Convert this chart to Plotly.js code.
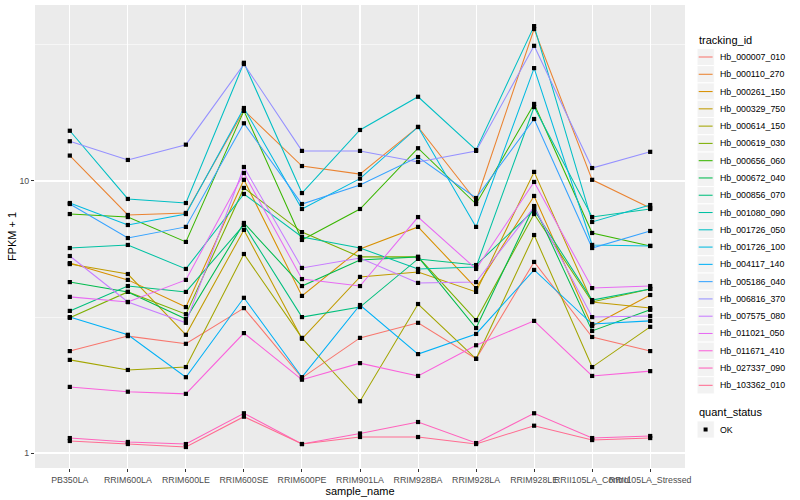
<!DOCTYPE html>
<html><head><meta charset="utf-8">
<script src="https://cdn.plot.ly/plotly-3.0.1.min.js"></script>
<style>html,body{margin:0;padding:0;background:#fff}#chart{width:800px;height:500px}</style>
</head><body><div id="chart"></div>
<script>
// categories
const samples = ['PB350LA','RRIM600LA','RRIM600LE','RRIM600SE','RRIM600PE','RRIM901LA','RRIM928BA','RRIM928LA','RRIM928LE','RRII105LA_Control','RRII105LA_Stressed'];
// FPKM + 1 per tracking_id
const hb000007_010 = [2.37, 2.69, 2.52, 3.41, 1.89, 2.65, 3.01, 2.22, 5.04, 2.67, 2.37];
const hb000110_270 = [12.4, 7.50, 7.63, 18.2, 11.35, 10.6, 15.8, 8.44, 36.2, 10.1, 7.96];
const hb000261_150 = [4.99, 4.33, 3.44, 10.1, 3.78, 5.62, 6.78, 4.04, 8.81, 2.93, 3.81];
const hb000329_750 = [4.95, 4.55, 2.72, 6.61, 2.63, 4.44, 4.63, 3.91, 10.8, 3.59, 3.41];
const hb000614_150 = [2.20, 2.02, 2.07, 5.39, 2.65, 1.55, 3.53, 2.22, 6.33, 2.07, 2.91];
const hb000619_030 = [3.14, 3.91, 3.24, 9.43, 6.49, 5.26, 5.26, 3.08, 7.56, 3.59, 4.01];
const hb000656_060 = [7.56, 7.37, 5.97, 18.1, 6.07, 7.89, 13.2, 8.23, 19.2, 6.44, 5.77];
const hb000672_040 = [4.25, 3.91, 3.11, 7.01, 4.11, 5.12, 5.26, 2.88, 8.09, 2.81, 3.36];
const hb000856_070 = [3.33, 4.11, 3.91, 6.89, 3.16, 3.44, 5.17, 4.91, 7.82, 3.65, 4.01];
const hb001080_090 = [5.67, 5.82, 4.75, 8.96, 6.23, 5.67, 4.75, 4.83, 18.7, 7.37, 7.89];
const hb001726_050 = [15.3, 8.59, 8.30, 27.2, 9.03, 15.4, 20.4, 13.0, 37.1, 7.07, 8.16];
const hb001726_100 = [8.30, 6.89, 7.56, 18.55, 7.89, 10.2, 15.8, 6.78, 26.0, 5.82, 5.77];
const hb004117_140 = [3.16, 2.72, 1.90, 3.72, 1.90, 3.50, 2.31, 2.74, 4.71, 2.98, 3.06];
const hb005186_040 = [8.23, 6.17, 6.78, 16.3, 8.23, 9.67, 12.25, 8.66, 16.9, 5.67, 6.55];
const hb006816_370 = [14.0, 11.95, 13.6, 26.9, 12.9, 12.9, 11.75, 12.9, 31.4, 11.16, 12.8];
const hb007575_080 = [5.30, 3.59, 3.01, 11.26, 4.79, 5.21, 4.22, 4.25, 8.02, 3.16, 3.19];
const hb011021_050 = [3.75, 3.59, 4.33, 10.7, 4.36, 4.11, 7.37, 4.75, 9.92, 4.04, 4.11];
const hb011671_410 = [1.75, 1.68, 1.65, 2.76, 1.86, 2.14, 1.92, 2.49, 3.06, 1.92, 2.00];
const hb027337_090 = [1.135, 1.098, 1.079, 1.40, 1.079, 1.18, 1.30, 1.088, 1.40, 1.135, 1.155];
const hb103362_010 = [1.107, 1.079, 1.052, 1.36, 1.079, 1.145, 1.145, 1.079, 1.26, 1.116, 1.135];

const trackingIds = ['Hb_000007_010','Hb_000110_270','Hb_000261_150','Hb_000329_750','Hb_000614_150','Hb_000619_030','Hb_000656_060','Hb_000672_040','Hb_000856_070','Hb_001080_090','Hb_001726_050','Hb_001726_100','Hb_004117_140','Hb_005186_040','Hb_006816_370','Hb_007575_080','Hb_011021_050','Hb_011671_410','Hb_027337_090','Hb_103362_010'];
const seriesValues = [hb000007_010,hb000110_270,hb000261_150,hb000329_750,hb000614_150,hb000619_030,hb000656_060,hb000672_040,hb000856_070,hb001080_090,hb001726_050,hb001726_100,hb004117_140,hb005186_040,hb006816_370,hb007575_080,hb011021_050,hb011671_410,hb027337_090,hb103362_010];
const colors = ['#F8766D','#EA8331','#D89000','#C09B00','#A3A500','#7CAE00','#39B600','#00BB4E','#00BF7D','#00C1A3','#00BFC4','#00BAE0','#00B0F6','#35A2FF','#9590FF','#C77CFF','#E76BF3','#FA62DB','#FF62BC','#FF6C91'];
const quantStatus = ['OK'];
const yTickVals = [1, 10];
const yTickText = ['1', '10'];

const FONT = 'Liberation Sans, Arial, sans-serif';
const traces = [];
seriesValues.forEach((vals, i) => {
  traces.push({type:'scatter', mode:'lines', x:samples, y:vals, name:trackingIds[i],
    line:{color:colors[i], width:1.05}, showlegend:false, hoverinfo:'name+y'});
});
seriesValues.forEach((vals, i) => {
  traces.push({type:'scatter', mode:'markers', x:samples, y:vals, name:quantStatus[0],
    marker:{symbol:'square', size:4.2, color:'#000'}, showlegend:false, hoverinfo:'skip'});
});

// panel geometry in px (for legend placement)
const L = 35, R = 685, T = 5, B = 468;
const px = x => (x - L) / (R - L);
const py = y => (B - y) / (B - T);

const shapes = [], annotations = [];
annotations.push({xref:'paper', yref:'paper', x:px(697), y:py(40), xanchor:'left', yanchor:'middle',
  text:'tracking_id', showarrow:false, font:{family:FONT, size:11, color:'#000'}});
const step = 17.28, y0 = 57;
trackingIds.forEach((id, i) => {
  const cy = y0 + i*step;
  shapes.push({type:'rect', xref:'paper', yref:'paper', x0:px(697), x1:px(714.3), y0:py(cy-step/2), y1:py(cy+step/2),
    fillcolor:'#F2F2F2', line:{color:'#fff', width:1}, layer:'above'});
  shapes.push({type:'line', xref:'paper', yref:'paper', x0:px(698.7), x1:px(712.6), y0:py(cy), y1:py(cy),
    line:{color:colors[i], width:1.05}, layer:'above'});
  annotations.push({xref:'paper', yref:'paper', x:px(718), y:py(cy), xanchor:'left', yanchor:'middle',
    text:id, showarrow:false, font:{family:FONT, size:8.8, color:'#000'}});
});
annotations.push({xref:'paper', yref:'paper', x:px(697), y:py(412), xanchor:'left', yanchor:'middle',
  text:'quant_status', showarrow:false, font:{family:FONT, size:11, color:'#000'}});
shapes.push({type:'rect', xref:'paper', yref:'paper', x0:px(697), x1:px(714.3), y0:py(429.5-step/2), y1:py(429.5+step/2),
  fillcolor:'#F2F2F2', line:{color:'#fff', width:1}, layer:'above'});
shapes.push({type:'rect', xref:'paper', yref:'paper', x0:px(703.6), x1:px(707.6), y0:py(427.5), y1:py(431.5),
  fillcolor:'#000', line:{width:0}, layer:'above'});
annotations.push({xref:'paper', yref:'paper', x:px(718), y:py(429.5), xanchor:'left', yanchor:'middle',
  text:quantStatus[0], showarrow:false, font:{family:FONT, size:8.8, color:'#000'}});

const layout = {
  width:800, height:500,
  margin:{l:L, r:800-R, t:T, b:500-B, pad:0},
  paper_bgcolor:'#fff', plot_bgcolor:'#EBEBEB',
  font:{family:FONT, size:9, color:'#4D4D4D'},
  showlegend:false,
  xaxis:{type:'category', range:[-0.6, 10.6], tickangle:0, showgrid:true, gridcolor:'#fff', gridwidth:1.07,
    zeroline:false, showline:false, ticks:'outside', ticklen:3, tickwidth:1, tickcolor:'#333',
    tickfont:{family:FONT, size:8.8, color:'#4D4D4D'}, automargin:true,
    title:{text:'sample_name', standoff:0, font:{family:FONT, size:11, color:'#000'}}},
  yaxis:{type:'log', range:[-0.0551, 1.647], tickmode:'array', tickvals:yTickVals, ticktext:yTickText,
    showgrid:true, gridcolor:'#fff', gridwidth:1.07, zeroline:false, showline:false,
    ticks:'outside', ticklen:3, tickwidth:1, tickcolor:'#333', automargin:true,
    tickfont:{family:FONT, size:8.8, color:'#4D4D4D'},
    minor:{tickmode:'array', tickvals:[Math.sqrt(10), Math.sqrt(1000)], showgrid:true, gridcolor:'#fff', gridwidth:0.53, ticks:''},
    title:{text:'FPKM + 1', standoff:0, font:{family:FONT, size:11, color:'#000'}}},
  shapes:shapes, annotations:annotations
};
Plotly.newPlot('chart', traces, layout, {displayModeBar:false, staticPlot:true});
</script></body></html>
